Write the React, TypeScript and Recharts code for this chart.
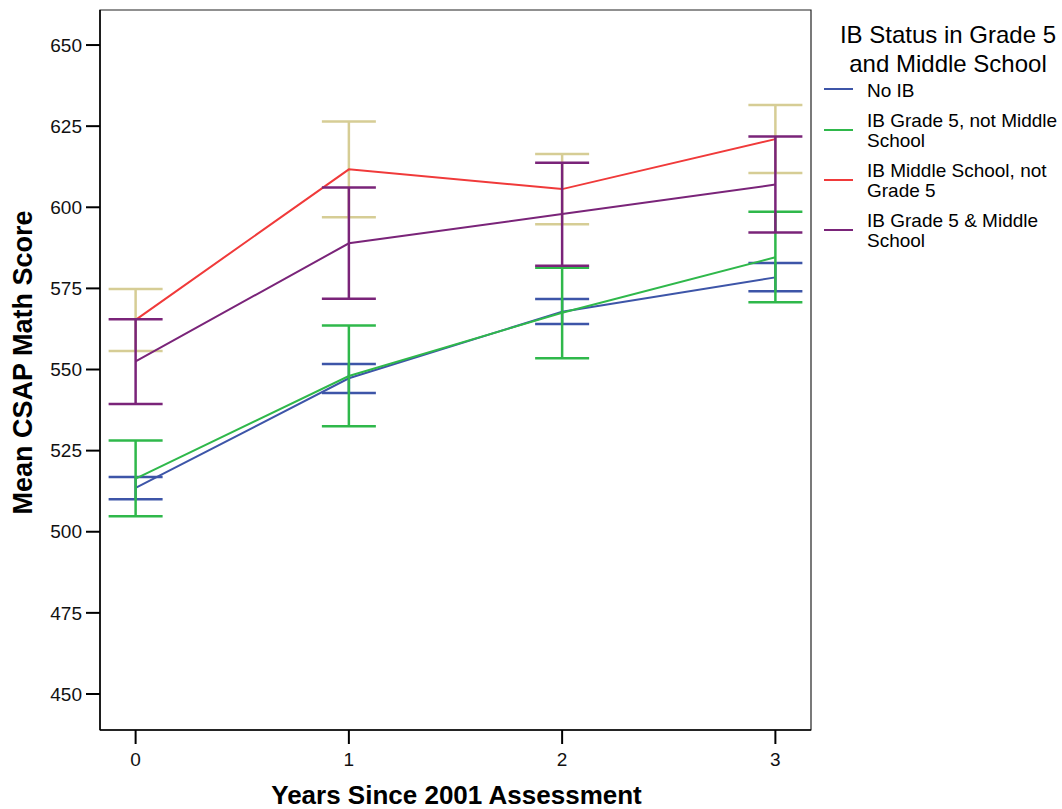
import React from 'react';
import { ComposedChart, Line, XAxis, YAxis, ErrorBar, ReferenceArea, Label } from 'recharts';

const years = [0, 1, 2, 3];
const yTicks = [450, 475, 500, 525, 550, 575, 600, 625, 650];

const seriesNames = ['No IB', 'IB Grade 5, not Middle School', 'IB Middle School, not Grade 5', 'IB Grade 5 & Middle School'];
const legendLines = [['No IB'], ['IB Grade 5, not Middle', 'School'], ['IB Middle School, not', 'Grade 5'], ['IB Grade 5 & Middle', 'School']];
const lineColors = ['#3d55a8', '#2fb84b', '#f03a3a', '#7a2479'];
const errColors = ['#3d55a8', '#2fb84b', '#d6cd95', '#7a2479'];

const noIbMean = [513.5, 547.3, 567.8, 578.4];
const noIbLow = [510.0, 542.8, 564.0, 574.1];
const noIbHigh = [516.9, 551.7, 571.7, 582.8];

const g5Mean = [516.4, 548.0, 567.5, 584.6];
const g5Low = [504.8, 532.5, 553.5, 570.7];
const g5High = [528.1, 563.6, 581.4, 598.6];

const msMean = [565.3, 611.7, 605.6, 621.0];
const msLow = [555.7, 596.9, 594.8, 610.6];
const msHigh = [574.8, 626.4, 616.4, 631.5];

const bothMean = [552.5, 588.9, 597.9, 607.0];
const bothLow = [539.4, 571.8, 582.0, 592.2];
const bothHigh = [565.5, 606.1, 613.7, 621.8];

const xDomain = [-0.167, 3.167];
const yDomain = [438.9, 660.8];

const means = [noIbMean, g5Mean, msMean, bothMean];
const lows = [noIbLow, g5Low, msLow, bothLow];
const highs = [noIbHigh, g5High, msHigh, bothHigh];
const keys = ['noIb', 'g5', 'ms', 'both'];

const data = years.map((yr, i) => {
  const row: any = { year: yr };
  keys.forEach((k, s) => {
    row[k] = means[s][i];
    row[k + 'Err'] = [means[s][i] - lows[s][i], highs[s][i] - means[s][i]];
  });
  return row;
});

const FONT = 'Arial, "Liberation Sans", sans-serif';

const LegendBox = () => {
  const firstBaselines = [96.7, 126.7, 176.7, 226.7];
  const sampleY = [89, 130, 180, 230];
  const ox = 811;
  return (
    <svg width={251} height={260} style={{ position: 'absolute', left: ox, top: 0, display: 'block' }}>
      <text x={948 - ox} y={43.3} textAnchor="middle" fontSize={24} fontFamily={FONT} fill="#000">IB Status in Grade 5</text>
      <text x={948 - ox} y={72} textAnchor="middle" fontSize={24} fontFamily={FONT} fill="#000">and Middle School</text>
      {legendLines.map((lines, i) => (
        <g key={seriesNames[i]}>
          <line x1={824 - ox} x2={853 - ox} y1={sampleY[i]} y2={sampleY[i]} stroke={lineColors[i]} strokeWidth={2} />
          {lines.map((t, j) => (
            <text key={t} x={867 - ox} y={firstBaselines[i] + j * 20} fontSize={19} fontFamily={FONT} fill="#000">{t}</text>
          ))}
        </g>
      ))}
    </svg>
  );
};

export default function App() {
  return (
    <div style={{ position: 'absolute', left: 0, top: 0, width: 1062, height: 809, background: '#fff' }}>
      <ComposedChart width={1062} height={809} data={data} margin={{ top: 10, right: 251, bottom: 0, left: 40 }}>
        <XAxis
          dataKey="year"
          type="number"
          domain={xDomain}
          ticks={years}
          allowDataOverflow
          height={79}
          tickSize={14}
          tickMargin={9}
          axisLine={{ stroke: '#000', strokeWidth: 1.5 }}
          tickLine={{ stroke: '#000', strokeWidth: 2 }}
          tick={{ fontSize: 19, fontFamily: FONT, fill: '#111' }}
        >
          <Label
            content={() => (
              <text x={456.5} y={804} textAnchor="middle" fontSize={26} fontWeight="bold" fontFamily={FONT} fill="#000">
                Years Since 2001 Assessment
              </text>
            )}
          />
        </XAxis>
        <YAxis
          type="number"
          domain={yDomain}
          ticks={yTicks}
          allowDataOverflow
          width={60}
          tickSize={14}
          tickMargin={4}
          axisLine={{ stroke: '#000', strokeWidth: 1.5 }}
          tickLine={{ stroke: '#000', strokeWidth: 2 }}
          tick={{ fontSize: 19, fontFamily: FONT, fill: '#111' }}
        >
          <Label
            content={() => (
              <text x={31.5} y={362.5} transform="rotate(-90 31.5 362.5)" textAnchor="middle" fontSize={27} fontWeight="bold" fontFamily={FONT} fill="#000">
                Mean CSAP Math Score
              </text>
            )}
          />
        </YAxis>
        <ReferenceArea x1={xDomain[0]} x2={xDomain[1]} y1={yDomain[0]} y2={yDomain[1]} fill="none" stroke="#222" strokeWidth={1.2} ifOverflow="visible" />
        {keys.map((k, s) => (
          <Line
            key={k}
            dataKey={k}
            name={seriesNames[s]}
            stroke={lineColors[s]}
            strokeWidth={2}
            dot={false}
            activeDot={false}
            isAnimationActive={false}
            type="linear"
          >
            <ErrorBar dataKey={k + 'Err'} width={27} stroke={errColors[s]} strokeWidth={2.5} direction="y" />
          </Line>
        ))}
      </ComposedChart>
      <LegendBox />
    </div>
  );
}
